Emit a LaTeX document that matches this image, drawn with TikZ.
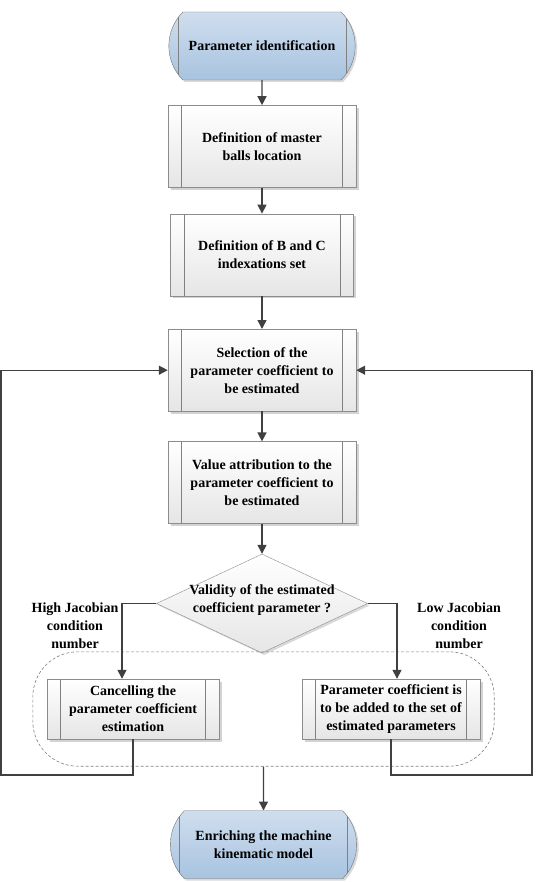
\documentclass[tikz,border=0pt]{standalone}
\usepackage{fontspec}
\setmainfont{Liberation Serif}
\usetikzlibrary{shapes.geometric, shapes.misc, arrows.meta, shadows, fit, positioning}

\definecolor{termblue}{RGB}{168,195,224}
\definecolor{linegray}{RGB}{64,64,64}

\begin{document}
\begin{tikzpicture}[x=1pt, y=1pt, node distance=26pt, font=\bfseries\fontsize{14}{18}\selectfont]

% Styles
\tikzset{
    sidelines/.style={path picture={
        \draw[black!50] ([xshift=#1]path picture bounding box.north west) -- ([xshift=#1]path picture bounding box.south west);
        \draw[black!50] ([xshift=-#1]path picture bounding box.north east) -- ([xshift=-#1]path picture bounding box.south east);}},
    terminal/.style={rounded rectangle, rounded rectangle arc length=90, draw=black!55, top color=termblue!55, bottom color=termblue, minimum width=193pt, minimum height=68pt, align=center, drop shadow={shadow xshift=2pt, shadow yshift=-2pt, opacity=0.3}, sidelines=14pt},
    process/.style={rectangle, draw=black!45, top color=white, bottom color=black!10, minimum width=188pt, minimum height=82pt, align=center, drop shadow={shadow xshift=2.5pt, shadow yshift=-2.5pt, opacity=0.35}, sidelines=13.5pt},
    decision/.style={diamond, aspect=2.13, draw=black!45, top color=white, bottom color=black!10, minimum width=211pt, minimum height=99pt, inner sep=0pt, drop shadow={shadow xshift=2pt, shadow yshift=-2pt, opacity=0.3}},
    arrow/.style={-{Triangle[length=9pt, width=9pt]}, line width=1.4pt, draw=linegray},
    group/.style={draw=black!50, line width=0.6pt, dash pattern=on 3pt off 2pt, rounded corners=45pt}
}

\useasboundingbox (0,0) rectangle (535,-882);

% Nodes
\node (start) [terminal] at (262,-46) {Parameter identification};
\node (master) [process, below=25pt of start] {Definition of master\\balls location};
\node (indexes) [process, below=26pt of master, minimum width=183pt] {Definition of B and C\\indexations set};
\node (select) [process, below=33pt of indexes] {Selection of the\\parameter coefficient to\\be estimated};
\node (value) [process, below=30pt of select] {Value attribution to the\\parameter coefficient to\\be estimated};
\node (valid) [decision, below=30pt of value] {\smash{\begin{tabular}{@{}c@{}}Validity of the estimated\\coefficient parameter ?\end{tabular}}};
\node (high) [align=center] at (75,-626) {High Jacobian\\condition\\number};
\node (low) [align=center] at (459,-626) {Low Jacobian\\condition\\number};
\node (cancel) [process, minimum width=172pt, minimum height=60pt] at (133,-709) {Cancelling the\\parameter coefficient\\estimation};
\node (add) [process, minimum width=178pt, minimum height=60pt] at (391,-709) {Parameter coefficient is\\to be added to the set of\\estimated parameters};
\node (region) [group, fit=(cancel)(add), inner xsep=14pt, inner ysep=27pt] {};
\node (enrich) [terminal, below=44pt of region] {Enriching the machine\\kinematic model};
\coordinate (loopL) at (1,-775);
\coordinate (loopR) at (532,-775);

% Arrows
\draw [arrow] (start) -- (master);
\draw [arrow] (master) -- (indexes);
\draw [arrow] (indexes) -- (select);
\draw [arrow] (select) -- (value);
\draw [arrow] (value) -- (valid);
\draw [arrow] (valid.west) -| ([xshift=-11pt]cancel.north);
\draw [arrow] (valid.east) -| ([xshift=6pt]add.north);
\draw [arrow] (cancel.south) |- (loopL) |- (select.west);
\draw [arrow] (add.south) |- (loopR) |- (select.east);
\draw [arrow] (region) -- (enrich);

\end{tikzpicture}
\end{document}
